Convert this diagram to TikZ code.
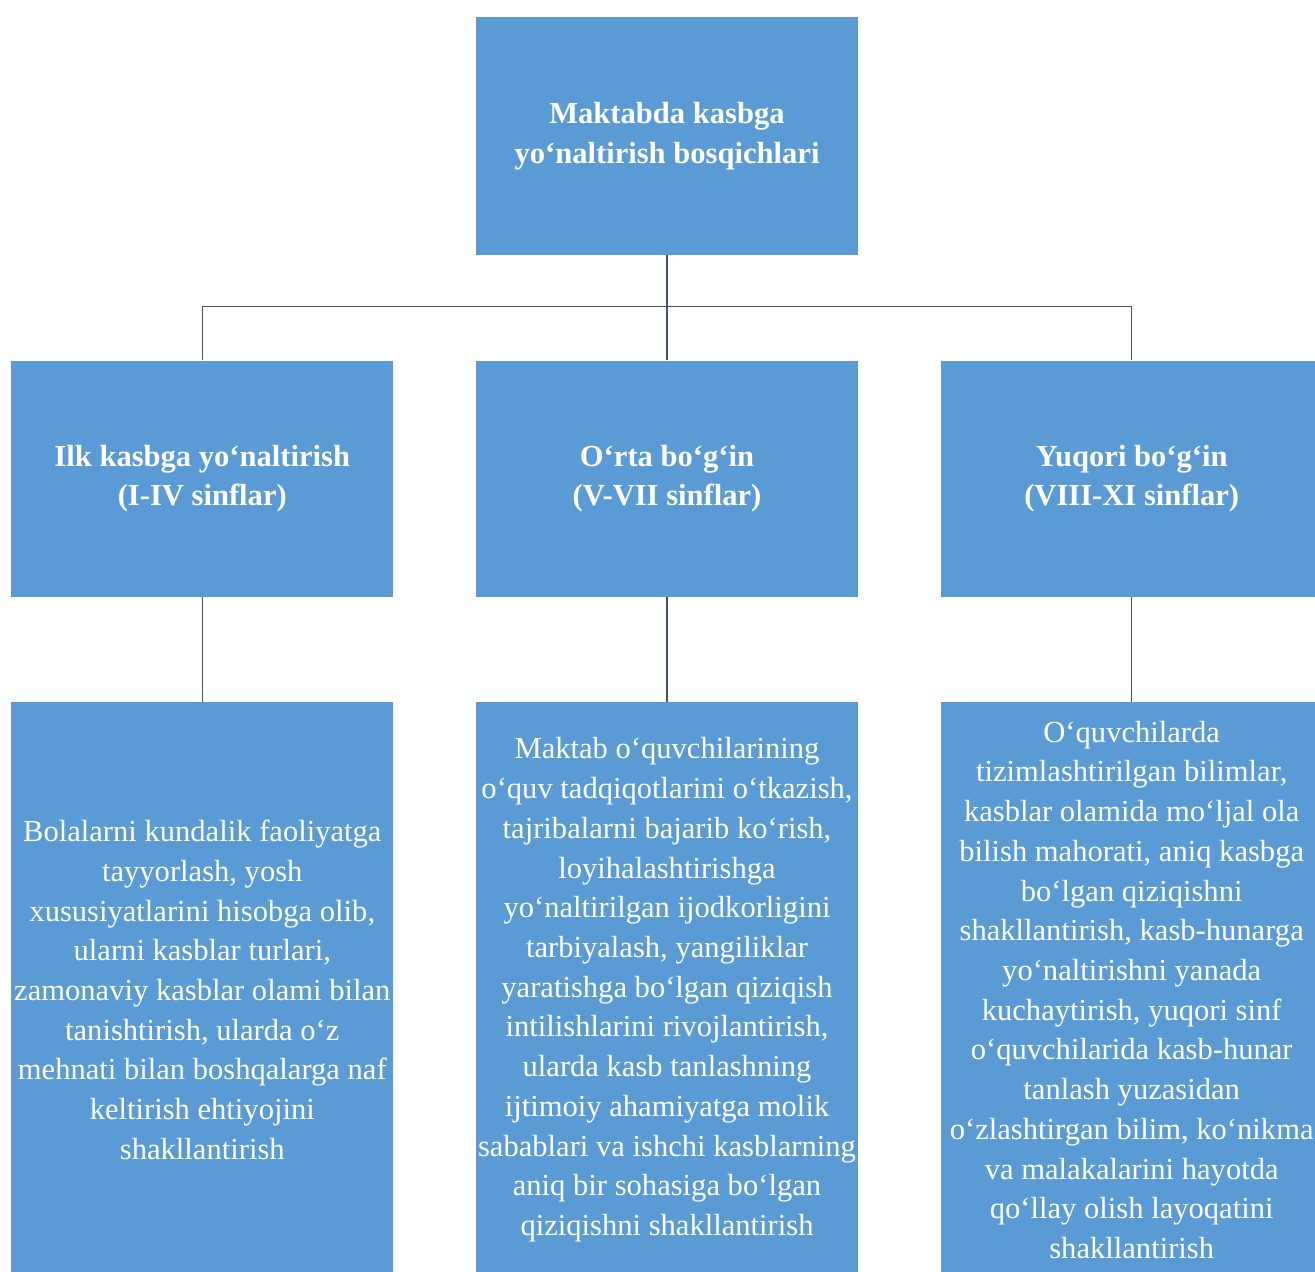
\documentclass[tikz,border=0pt]{standalone}
\usepackage{fontspec}
\setmainfont{Liberation Serif}
\usetikzlibrary{positioning, calc}
\definecolor{myblue}{RGB}{91, 155, 213}
\definecolor{mygray}{RGB}{68, 84, 106}

\begin{document}
\begin{tikzpicture}[
  box/.style = {fill = myblue, text = white, align = center, inner sep = 0pt,
    minimum width = 7.64cm, font = \fontsize{17.4}{22.6}\selectfont},
  head/.style = {box, minimum height = 4.72cm, font = \fontsize{17.4}{22.6}\selectfont\bfseries},
  desc/.style = {box, minimum height = 11.5cm},
  link/.style = {draw = mygray, line width = 0.8pt}]
\useasboundingbox (0,0) rectangle (26.3,-25.44);
% top
\node[head, minimum height = 4.76cm] (top) at (13.34,-2.72) {Maktabda kasbga\\yo‘naltirish bosqichlari};
% stages
\node[head, below = 2.1cm of top] (mid) {O‘rta bo‘g‘in\\(V-VII sinflar)};
\node[head, left = 1.64cm of mid] (left) {Ilk kasbga yo‘naltirish\\(I-IV sinflar)};
\node[head, right = 1.64cm of mid] (right) {Yuqori bo‘g‘in\\(VIII-XI sinflar)};
% descriptions
\node[desc, below = 2.1cm of left] (leftd) {Bolalarni kundalik faoliyatga\\tayyorlash, yosh\\xususiyatlarini hisobga olib,\\ularni kasblar turlari,\\zamonaviy kasblar olami bilan\\tanishtirish, ularda o‘z\\mehnati bilan boshqalarga naf\\keltirish ehtiyojini\\shakllantirish};
\node[desc, below = 2.1cm of mid] (midd) {Maktab o‘quvchilarining\\o‘quv tadqiqotlarini o‘tkazish,\\tajribalarni bajarib ko‘rish,\\loyihalashtirishga\\yo‘naltirilgan ijodkorligini\\tarbiyalash, yangiliklar\\yaratishga bo‘lgan qiziqish\\intilishlarini rivojlantirish,\\ularda kasb tanlashning\\ijtimoiy ahamiyatga molik\\sabablari va ishchi kasblarning\\aniq bir sohasiga bo‘lgan\\qiziqishni shakllantirish};
\node[desc, below = 2.1cm of right] (rightd) {O‘quvchilarda\\tizimlashtirilgan bilimlar,\\kasblar olamida mo‘ljal ola\\bilish mahorati, aniq kasbga\\bo‘lgan qiziqishni\\shakllantirish, kasb-hunarga\\yo‘naltirishni yanada\\kuchaytirish, yuqori sinf\\o‘quvchilarida kasb-hunar\\tanlash yuzasidan\\o‘zlashtirgan bilim, ko‘nikma\\va malakalarini hayotda\\qo‘llay olish layoqatini\\shakllantirish};
% connectors
\coordinate (bar) at ($(top.south)+(0,-1.02)$);
\draw[link] (top.south) -- (mid.north);
\draw[link] (left.north) |- (bar) -| (right.north);
\draw[link] (left.south) -- (leftd.north);
\draw[link] (mid.south) -- (midd.north);
\draw[link] (right.south) -- (rightd.north);
\end{tikzpicture}
\end{document}
